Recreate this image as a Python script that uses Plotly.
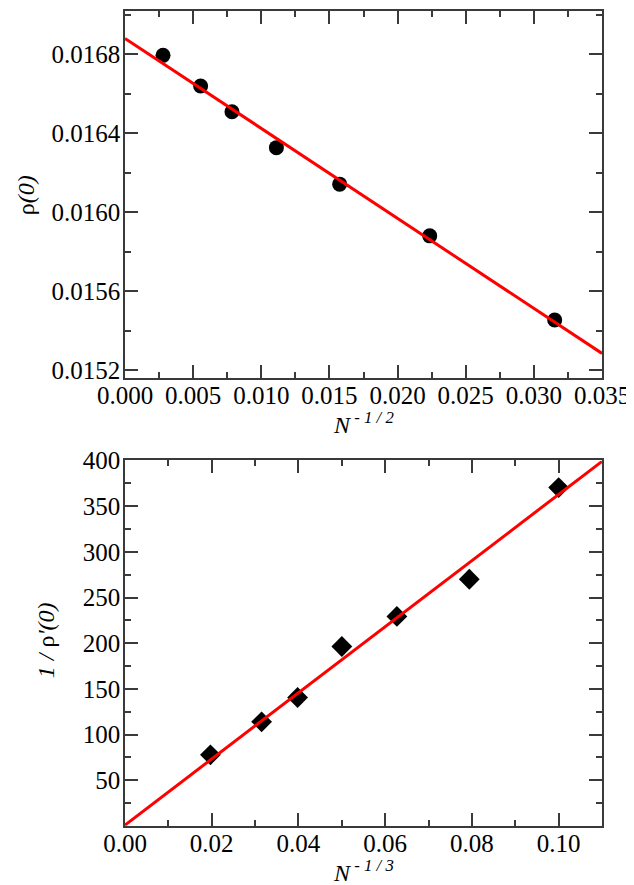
import plotly.graph_objects as go
from plotly.subplots import make_subplots

# Top panel: rho(0) vs N^{-1/2}
x_top = [0.00279, 0.00555, 0.00785, 0.01111, 0.01575, 0.02236, 0.03153]
y_top = [0.016795, 0.016640, 0.016509, 0.016327, 0.016142, 0.015880, 0.015453]
fit_top_x = [0.0, 0.035]
fit_top_y = [0.016881, 0.015284]

# Bottom panel: 1/rho'(0) vs N^{-1/3}
x_bot = [0.0197, 0.0315, 0.0398, 0.0500, 0.0627, 0.0794, 0.1000]
y_bot = [77.9, 114.0, 140.6, 196.4, 229.3, 270.0, 370.3]
fit_bot_x = [0.0, 0.11]
fit_bot_y = [1.0, 399.0]

top_xticks = [0.000, 0.005, 0.010, 0.015, 0.020, 0.025, 0.030, 0.035]
top_yticks = [0.0152, 0.0156, 0.0160, 0.0164, 0.0168]
bot_xticks = [0.00, 0.02, 0.04, 0.06, 0.08, 0.10]
bot_yticks = [50, 100, 150, 200, 250, 300, 350, 400]

FONT = "Liberation Serif"
AX = "#3a3a3a"

fig = make_subplots(rows=2, cols=1, vertical_spacing=0.1)

fig.add_trace(go.Scatter(x=x_top, y=y_top, mode="markers",
                         marker=dict(symbol="circle", size=15, color="black"),
                         showlegend=False), row=1, col=1)
fig.add_trace(go.Scatter(x=fit_top_x, y=fit_top_y, mode="lines",
                         line=dict(color="#ff0000", width=3), showlegend=False), row=1, col=1)
fig.add_trace(go.Scatter(x=x_bot, y=y_bot, mode="markers",
                         marker=dict(symbol="diamond", size=16, color="black"),
                         showlegend=False), row=2, col=1)
fig.add_trace(go.Scatter(x=fit_bot_x, y=fit_bot_y, mode="lines",
                         line=dict(color="#ff0000", width=3), showlegend=False), row=2, col=1)

common = dict(showline=True, linecolor=AX, linewidth=1.5, mirror="ticks",
              ticks="inside", ticklen=13, tickwidth=1.5, tickcolor=AX,
              showgrid=False, zeroline=False,
              tickfont=dict(family=FONT, size=25, color="black"))
minor_common = dict(ticks="inside", ticklen=6, tickcolor=AX, tickwidth=1.5)

fig.update_xaxes(range=[0, 0.035], tickvals=top_xticks,
                 ticktext=[f"{v:.3f}" for v in top_xticks],
                 minor=dict(dtick=0.0025, tick0=0, **minor_common),
                 ticklabelstandoff=-6,
                 row=1, col=1, **common)
fig.update_yaxes(range=[0.01516, 0.01702], tickvals=top_yticks,
                 ticktext=[f"{v:.4f}" for v in top_yticks],
                 minor=dict(dtick=0.0002, tick0=0.0152, **minor_common),
                 ticklabelstandoff=-2,
                 row=1, col=1, **common)
fig.update_xaxes(range=[0, 0.11], tickvals=bot_xticks,
                 ticktext=[f"{v:.2f}" for v in bot_xticks],
                 minor=dict(dtick=0.01, tick0=0, **minor_common),
                 ticklabelstandoff=-6,
                 row=2, col=1, **common)
fig.update_yaxes(range=[0, 400], tickvals=bot_yticks,
                 ticktext=[str(v) for v in bot_yticks],
                 minor=dict(dtick=25, tick0=0, **minor_common),
                 ticklabelstandoff=-2,
                 row=2, col=1, **common)

tfont = dict(family=FONT, size=24, color="black")
annotations = [
    dict(text="<i>N</i><sup><i> - 1 / 2</i></sup>", x=0.5, y=0.5153,
         xref="paper", yref="paper", xanchor="center", yanchor="top",
         showarrow=False, font=tfont),
    dict(text="<i>N</i><sup><i> - 1 / 3</i></sup>", x=0.5, y=-0.034,
         xref="paper", yref="paper", xanchor="center", yanchor="top",
         showarrow=False, font=tfont),
    dict(text="ρ<i>(0)</i>", x=-0.2075, y=0.774, textangle=-90,
         xref="paper", yref="paper", xanchor="center", yanchor="middle",
         showarrow=False, font=tfont),
    dict(text="<i>1 / </i>ρ<i>'(0)</i>", x=-0.1656, y=0.228, textangle=-90,
         xref="paper", yref="paper", xanchor="center", yanchor="middle",
         showarrow=False, font=tfont),
]

# page body has an 8px default margin, so the figure is 8px smaller and offset
fig.update_layout(
    width=626, height=877,
    margin=dict(l=117, r=32, t=3, b=59, autoexpand=False),
    paper_bgcolor="white", plot_bgcolor="white",
    xaxis=dict(domain=[0, 1]), xaxis2=dict(domain=[0, 1]),
    yaxis=dict(domain=[0.5499, 1.0]), yaxis2=dict(domain=[0.0, 0.4485]),
    annotations=annotations,
)

fig.write_html("out.html")
